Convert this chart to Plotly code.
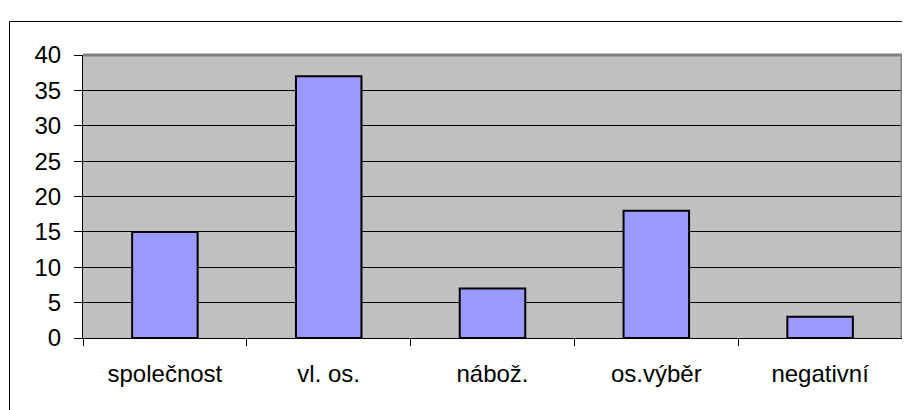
import plotly.graph_objects as go

categories = ["společnost", "vl. os.", "nábož.", "os.výběr", "negativní"]
values = [15, 37, 7, 18, 3]
y_ticks = [0, 5, 10, 15, 20, 25, 30, 35, 40]

# page has an 8px body margin; figure is laid out in its own coordinates
OFF = 8
W, H = 902, 402
ml, mt = 83 - OFF, 55 - OFF
right_px, bottom_px = 902 - OFF, 338 - OFF
mr, mb = W - right_px, H - bottom_px
pw, ph = W - ml - mr, H - mt - mb

fig = go.Figure()
fig.add_trace(go.Bar(
    x=categories, y=values,
    marker=dict(color="#9999FF", line=dict(color="black", width=2)),
    width=0.4,
))

font = dict(family="Liberation Sans, Arial, sans-serif", size=24, color="black")


def px_x(p):
    return (p - OFF - ml) / pw


def px_y(p):
    return (H - mb - (p - OFF)) / ph


fig.update_layout(
    width=W, height=H,
    margin=dict(l=ml, r=mr, t=mt, b=mb, autoexpand=False),
    paper_bgcolor="white",
    plot_bgcolor="#C0C0C0",
    showlegend=False,
    font=font,
    xaxis=dict(
        showgrid=False, showline=True, linecolor="black", linewidth=1,
        ticks="outside", ticklen=7, tickcolor="black", tickson="boundaries",
        tickfont=font, ticklabelstandoff=14, fixedrange=True,
    ),
    yaxis=dict(
        range=[0, 40], tickvals=y_ticks, showgrid=True, gridcolor="black", gridwidth=1,
        showline=True, linecolor="black", linewidth=1, zeroline=False,
        ticks="outside", ticklen=8, tickcolor="black", tickfont=font,
        ticklabelstandoff=8, fixedrange=True,
    ),
    shapes=[
        dict(type="line", xref="paper", yref="paper", x0=0, x1=1, y0=1, y1=1,
             line=dict(color="#808080", width=3)),
        dict(type="line", xref="paper", yref="paper", x0=1, x1=1, y0=0, y1=1,
             line=dict(color="#808080", width=3)),
        dict(type="rect", xref="paper", yref="paper",
             x0=px_x(9.5), x1=px_x(930), y0=px_y(440), y1=px_y(21.5),
             line=dict(color="black", width=1), layer="below"),
    ],
)

fig.write_html("out.html")
